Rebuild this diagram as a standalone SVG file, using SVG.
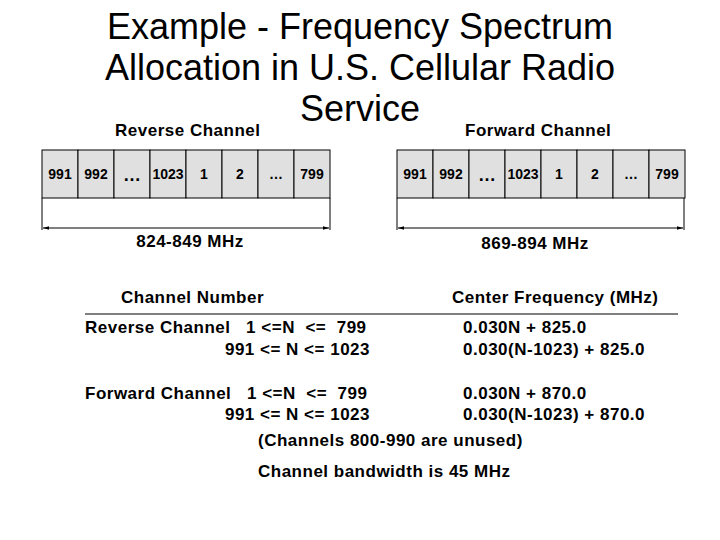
<svg xmlns="http://www.w3.org/2000/svg" width="720" height="540" viewBox="0 0 720 540">
<style>
text{font-family:"Liberation Sans",Arial,sans-serif;fill:#000;white-space:pre}
.t{font-size:36px}
.h{font-size:17px;font-weight:bold;letter-spacing:0.5px}
.c{font-size:14px;font-weight:bold;text-anchor:middle}
.d{font-size:18px;font-weight:bold;text-anchor:middle}
.cell{fill:#e0e0e0;stroke:#000;stroke-width:1}
.ln{stroke:#000;stroke-width:1;fill:none}
</style>
<defs>
<marker id="a" viewBox="0 0 10 10" refX="10" refY="5" markerWidth="6" markerHeight="6" orient="auto-start-reverse"><path d="M0,2 L10,5 L0,8 z" fill="#000"/></marker>
</defs>
<rect width="720" height="540" fill="#fff"/>
<g id="title">
<text class="t" x="360" y="39" text-anchor="middle">Example - Frequency Spectrum</text>
<text class="t" x="360" y="80" text-anchor="middle">Allocation in U.S. Cellular Radio</text>
<text class="t" x="360" y="121" text-anchor="middle">Service</text>
</g>
<g id="labels">
<text class="h" x="115" y="136">Reverse Channel</text>
<text class="h" x="465" y="136">Forward Channel</text>
</g>
<g id="reverse">
<rect class="cell" x="42" y="150" width="36" height="48"/><text class="c" x="60" y="179">991</text>
<rect class="cell" x="78" y="150" width="36" height="48"/><text class="c" x="96" y="179">992</text>
<rect class="cell" x="114" y="150" width="36" height="48"/><text class="d" x="132" y="181">…</text>
<rect class="cell" x="150" y="150" width="36" height="48"/><text class="c" x="168" y="179">1023</text>
<rect class="cell" x="186" y="150" width="36" height="48"/><text class="c" x="204" y="179">1</text>
<rect class="cell" x="222" y="150" width="36" height="48"/><text class="c" x="240" y="179">2</text>
<rect class="cell" x="258" y="150" width="36" height="48"/><text class="c" x="276" y="179">…</text>
<rect class="cell" x="294" y="150" width="36" height="48"/><text class="c" x="312" y="179">799</text>
<text class="h" x="190" y="247" text-anchor="middle">824-849 MHz</text>
</g>
<g id="forward">
<rect class="cell" x="397" y="150" width="36" height="48"/><text class="c" x="415" y="179">991</text>
<rect class="cell" x="433" y="150" width="36" height="48"/><text class="c" x="451" y="179">992</text>
<rect class="cell" x="469" y="150" width="36" height="48"/><text class="d" x="487" y="181">…</text>
<rect class="cell" x="505" y="150" width="36" height="48"/><text class="c" x="523" y="179">1023</text>
<rect class="cell" x="541" y="150" width="36" height="48"/><text class="c" x="559" y="179">1</text>
<rect class="cell" x="577" y="150" width="36" height="48"/><text class="c" x="595" y="179">2</text>
<rect class="cell" x="613" y="150" width="36" height="48"/><text class="c" x="631" y="179">…</text>
<rect class="cell" x="649" y="150" width="36" height="48"/><text class="c" x="667" y="179">799</text>
<text class="h" x="535" y="249" text-anchor="middle">869-894 MHz</text>
</g>
<g id="connectors">
<path class="ln" d="M42,198 V230 M330,198 V230 M397,198 V230 M684,198 V230"/>
<line class="ln" x1="43" y1="228" x2="329" y2="228" marker-start="url(#a)" marker-end="url(#a)"/>
<line class="ln" x1="398" y1="228" x2="683" y2="228" marker-start="url(#a)" marker-end="url(#a)"/>
<line class="ln" x1="85" y1="314" x2="678" y2="314"/>
</g>
<g id="table">
<text class="h" x="121" y="303">Channel Number</text>
<text class="h" x="452" y="303">Center Frequency (MHz)</text>
<text class="h" x="85" y="333">Reverse Channel   1 &lt;=N  &lt;=  799</text>
<text class="h" x="370" y="355" text-anchor="end">991 &lt;= N &lt;= 1023</text>
<text class="h" x="463" y="333">0.030N + 825.0</text>
<text class="h" x="463" y="355">0.030(N-1023) + 825.0</text>
<text class="h" x="85" y="399">Forward Channel   1 &lt;=N  &lt;=  799</text>
<text class="h" x="370" y="420" text-anchor="end">991 &lt;= N &lt;= 1023</text>
<text class="h" x="463" y="399">0.030N + 870.0</text>
<text class="h" x="463" y="420">0.030(N-1023) + 870.0</text>
<text class="h" x="258" y="446">(Channels 800-990 are unused)</text>
<text class="h" x="258" y="477">Channel bandwidth is 45 MHz</text>
</g>
</svg>
